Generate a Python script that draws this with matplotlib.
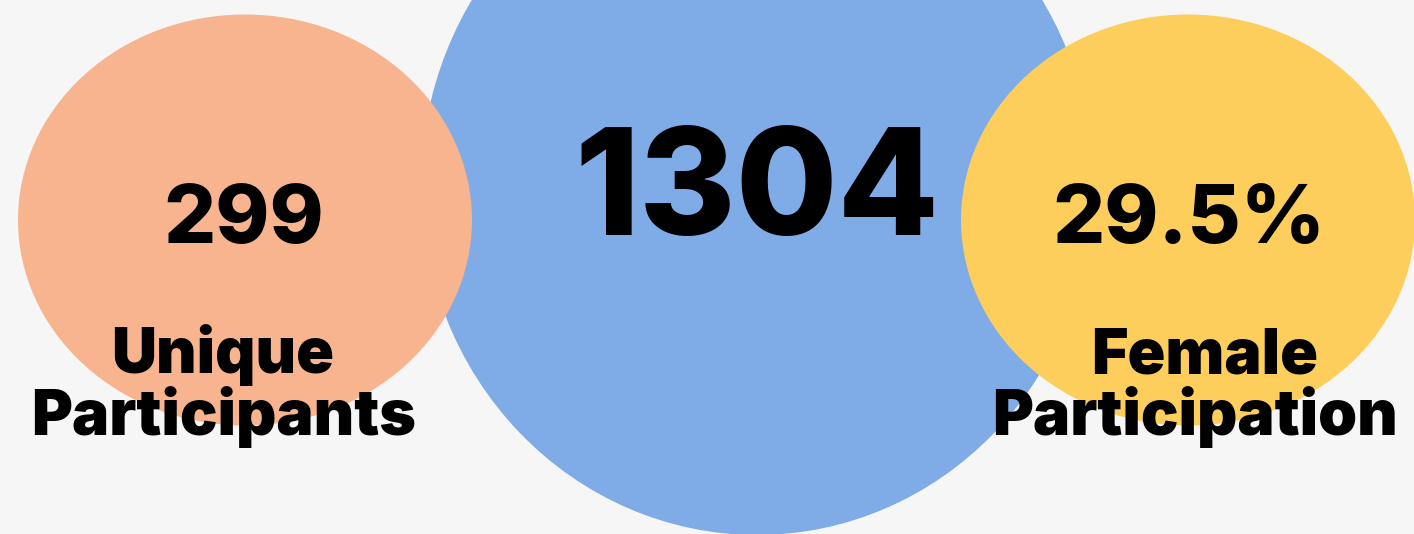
import matplotlib
matplotlib.use('Agg')
import matplotlib.pyplot as plt
from matplotlib.patches import Ellipse

# values shown in the bubbles
values = ['299', '1304', '29.5%']
label_top = ['Unique', '', 'Female']
label_bottom = ['Participants', '', 'Participation']
colors = ['#F7B48F', '#7FACE6', '#FECE5C']

W, H = 1414, 534
BG = '#F6F6F6'
FONT = ['Inter', 'DejaVu Sans']

fig = plt.figure(figsize=(W / 100, H / 100), dpi=100, facecolor=BG)
ax = fig.add_axes([0, 0, 1, 1])
ax.set_xlim(0, W)
ax.set_ylim(H, 0)
ax.axis('off')
ax.set_facecolor(BG)

# bubble layout in pixel units: (cx, cy, width, height, zorder)
bubbles = [(245, 220, 454, 411, 2), (757, 185, 672, 700, 1), (1188, 220, 454, 411, 2)]
# value text: x, baseline y, font size
val_pos = [(244, 243, 59), (757, 235, 106), (1189, 243, 59)]
# label text centres: (top line x, bottom line x)
lab_x = [(223, 224), None, (1205, 1195)]

for i, (cx, cy, w, h, z) in enumerate(bubbles):
    ax.add_patch(Ellipse((cx, cy), w, h, facecolor=colors[i], edgecolor='none', zorder=z))
    vx, vy, fs = val_pos[i]
    ax.text(vx, vy, values[i], ha='center', va='baseline', fontsize=fs,
            fontweight=800, family=FONT, color='black', zorder=5)
    if label_top[i]:
        ax.text(lab_x[i][0], 373, label_top[i], ha='center', va='baseline', fontsize=45,
                fontweight='black', family=FONT, color='black', zorder=5)
        ax.text(lab_x[i][1], 435, label_bottom[i], ha='center', va='baseline', fontsize=45,
                fontweight='black', family=FONT, color='black', zorder=5)

fig.savefig('out.png', dpi=100, facecolor=BG)
